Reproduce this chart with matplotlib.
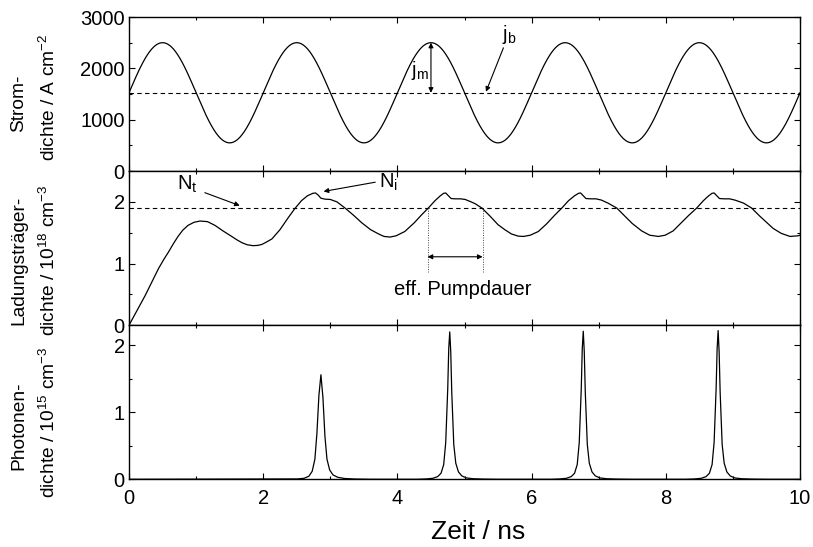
import numpy as np
import matplotlib
matplotlib.use("Agg")
import matplotlib.pyplot as plt
from matplotlib.ticker import MultipleLocator

plt.rcParams['font.family'] = ['Liberation Sans', 'DejaVu Sans']
plt.rcParams['mathtext.fontset'] = 'custom'
plt.rcParams['mathtext.rm'] = 'Liberation Sans'
plt.rcParams['mathtext.it'] = 'Liberation Sans'

# --- current modulation (A/cm^2) ---
j_b = 1525.0          # bias current density
j_m = 975.0           # modulation amplitude
mod_period = 2.0      # ns

# --- carrier density (1e18 cm^-3) ---
carrier_t = [0.00, 0.12, 0.24, 0.34, 0.44, 0.52, 0.59, 0.66, 0.73, 0.80, 0.88, 0.97,
             1.06, 1.17, 1.28, 1.40, 1.53, 1.60, 1.68, 1.76, 1.85, 1.92, 1.98, 2.05,
             2.13, 2.25, 2.37, 2.47, 2.57, 2.66, 2.74,
             2.78, 2.82, 2.86, 2.92, 3.00, 3.10, 3.22, 3.35, 3.47, 3.60, 3.72, 3.80,
             3.89, 3.98, 4.11, 4.25, 4.36, 4.46, 4.56, 4.64, 4.69, 4.72, 4.76, 4.80,
             4.86, 4.94, 5.01, 5.10, 5.16, 5.26, 5.38, 5.50, 5.60, 5.70, 5.80, 5.88,
             5.98, 6.10, 6.22, 6.34, 6.45, 6.55, 6.64, 6.70, 6.73, 6.77, 6.81, 6.88,
             6.96, 7.04, 7.14, 7.27, 7.38, 7.50, 7.64, 7.76, 7.89, 7.99, 8.11, 8.22,
             8.34, 8.46, 8.56, 8.64, 8.69, 8.72, 8.76, 8.80, 8.87, 8.95, 9.03, 9.16,
             9.28, 9.40, 9.50, 9.60, 9.72, 9.85, 9.97, 10.00]
carrier_n = [0.00, 0.24, 0.48, 0.70, 0.92, 1.07, 1.19, 1.32, 1.44, 1.54, 1.62, 1.67,
             1.69, 1.68, 1.62, 1.53, 1.44, 1.39, 1.34, 1.305, 1.29, 1.295, 1.31, 1.35,
             1.40, 1.55, 1.74, 1.89, 2.02, 2.10, 2.14,
             2.145, 2.11, 2.06, 2.045, 2.04, 2.00, 1.90, 1.78, 1.66, 1.55, 1.48, 1.44,
             1.43, 1.45, 1.52, 1.66, 1.79, 1.90, 2.02, 2.10, 2.14, 2.145, 2.10, 2.055,
             2.05, 2.05, 2.04, 2.00, 1.97, 1.90, 1.77, 1.63, 1.55, 1.48, 1.445, 1.44,
             1.46, 1.52, 1.64, 1.78, 1.90, 2.02, 2.10, 2.14, 2.145, 2.10, 2.055, 2.05,
             2.05, 2.03, 1.98, 1.90, 1.78, 1.65, 1.53, 1.46, 1.44, 1.46, 1.53, 1.65,
             1.78, 1.90, 2.02, 2.10, 2.14, 2.145, 2.10, 2.055, 2.05, 2.05, 2.03, 1.98,
             1.90, 1.77, 1.67, 1.57, 1.49, 1.44, 1.45, 1.46]
N_t = 1.90

# --- photon density (1e15 cm^-3) ---
photon_t = [0.00, 2.51, 2.61, 2.68, 2.73, 2.77, 2.80, 2.83, 2.86, 2.89, 2.92, 2.95,
            2.99, 3.04, 3.11, 3.21, 3.36, 3.60,
            4.30, 4.43, 4.53, 4.60, 4.65, 4.69, 4.72, 4.75, 4.765, 4.78, 4.795, 4.81,
            4.84, 4.87, 4.91, 4.96, 5.03, 5.13, 5.28, 5.50,
            6.30, 6.42, 6.52, 6.59, 6.64, 6.68, 6.71, 6.74, 6.755, 6.77, 6.785, 6.80,
            6.83, 6.86, 6.90, 6.95, 7.02, 7.12, 7.27, 7.50,
            8.30, 8.43, 8.53, 8.60, 8.65, 8.69, 8.72, 8.75, 8.765, 8.78, 8.795, 8.81,
            8.84, 8.87, 8.91, 8.96, 9.03, 9.13, 9.28, 9.50, 10.00]
photon_s = [0.000, 0.005, 0.015, 0.045, 0.12, 0.30, 0.68, 1.25, 1.56, 1.22, 0.64, 0.30,
            0.14, 0.065, 0.030, 0.012, 0.004, 0.000,
            0.000, 0.005, 0.015, 0.04, 0.09, 0.22, 0.55, 1.35, 1.95, 2.20, 1.90, 1.30,
            0.52, 0.24, 0.11, 0.05, 0.02, 0.008, 0.003, 0.000,
            0.000, 0.005, 0.015, 0.04, 0.09, 0.22, 0.55, 1.35, 1.95, 2.21, 1.90, 1.30,
            0.52, 0.24, 0.11, 0.05, 0.02, 0.008, 0.003, 0.000,
            0.000, 0.005, 0.015, 0.04, 0.09, 0.22, 0.55, 1.35, 1.95, 2.22, 1.90, 1.30,
            0.52, 0.24, 0.11, 0.05, 0.02, 0.008, 0.003, 0.000, 0.000]

# two-line axis titles (first line, second line)
ylabels = [('Strom-', 'dichte / A cm$^{-2}$'),
           ('Ladungsträger-', 'dichte / 10$^{18}$ cm$^{-3}$'),
           ('Photonen-', 'dichte / 10$^{15}$ cm$^{-3}$')]
xlabel = 'Zeit / ns'

FS = 14.5
FS_LABEL = 13.8
LW = 0.9

fig = plt.figure(figsize=(8.13, 5.47), dpi=100)
left, width, h = 0.1587, 0.8253, 0.2817
ax1 = fig.add_axes([left, 0.6872, width, h])
ax2 = fig.add_axes([left, 0.4055, width, h], sharex=ax1)
ax3 = fig.add_axes([left, 0.1238, width, h], sharex=ax1)

for ax in (ax1, ax2, ax3):
    ax.tick_params(which='both', direction='in', top=True, right=True,
                   labelsize=FS, width=0.8)
    ax.tick_params(which='major', length=4)
    ax.tick_params(which='minor', length=2.5)
    ax.tick_params(axis='x', pad=7)
    ax.tick_params(axis='y', pad=3)
    ax.xaxis.set_major_locator(MultipleLocator(2))
    ax.xaxis.set_minor_locator(MultipleLocator(1))
    for s in ax.spines.values():
        s.set_linewidth(1.0)
ax1.tick_params(axis='x', labelbottom=False)
ax2.tick_params(axis='x', labelbottom=False)
ax1.set_xlim(0, 10)

dash = (0, (4, 3))
arrow_kw = dict(color='black', lw=0.8, mutation_scale=7, shrinkA=0, shrinkB=0)

# current density
t_j = np.linspace(0, 10, 2001)
j = j_b + j_m * np.sin(2 * np.pi * t_j / mod_period)
ax1.plot(t_j, j, color='black', lw=LW)
ax1.axhline(j_b, color='black', lw=0.8, ls=dash)
ax1.set_ylim(0, 3000)
ax1.yaxis.set_major_locator(MultipleLocator(1000))
ax1.yaxis.set_minor_locator(MultipleLocator(500))
ax1.annotate('', xy=(4.5, j_b + j_m), xytext=(4.5, j_b),
             arrowprops=dict(arrowstyle='<|-|>', **arrow_kw))
ax1.text(4.20, 1950, r'j$_\mathregular{m}$', fontsize=FS, ha='left', va='center')
ax1.annotate('', xy=(5.32, j_b + 20), xytext=(5.58, 2400),
             arrowprops=dict(arrowstyle='-|>', **arrow_kw))
ax1.text(5.56, 2650, r'j$_\mathregular{b}$', fontsize=FS, ha='left', va='center')

# carrier density
ax2.plot(carrier_t, carrier_n, color='black', lw=LW)
ax2.axhline(N_t, color='black', lw=0.8, ls=dash)
ax2.set_ylim(0, 2.5)
ax2.yaxis.set_major_locator(MultipleLocator(1))
ax2.yaxis.set_minor_locator(MultipleLocator(0.5))
ax2.annotate('', xy=(1.65, 1.94), xytext=(1.13, 2.15),
             arrowprops=dict(arrowstyle='-|>', **arrow_kw))
ax2.text(0.72, 2.28, r'N$_\mathregular{t}$', fontsize=FS, ha='left', va='center')
ax2.annotate('', xy=(2.90, 2.17), xytext=(3.67, 2.32),
             arrowprops=dict(arrowstyle='-|>', **arrow_kw))
ax2.text(3.72, 2.32, r'N$_\mathregular{i}$', fontsize=FS, ha='left', va='center')
pump_start, pump_end = 4.45, 5.27
for xv in (pump_start, pump_end):
    ax2.plot([xv, xv], [0.86, N_t], color='#444444', lw=0.7, ls=(0, (1, 1.5)))
ax2.annotate('', xy=(pump_end, 1.11), xytext=(pump_start, 1.11),
             arrowprops=dict(arrowstyle='<|-|>', **arrow_kw))
ax2.text(4.98, 0.58, 'eff. Pumpdauer', fontsize=FS, ha='center', va='center')

# photon density
ax3.plot(photon_t, photon_s, color='black', lw=LW)
ax3.set_ylim(0, 2.3)
ax3.yaxis.set_major_locator(MultipleLocator(1))
ax3.yaxis.set_minor_locator(MultipleLocator(0.5))

W, H = 813.0, 547.0
lab_kw = dict(rotation=90, ha='center', va='center', fontsize=FS_LABEL)
label_centers = [(103, 97), (260, 260), (426, 422)]
for (line1, line2), (c1, c2) in zip(ylabels, label_centers):
    fig.text(19 / W, 1 - c1 / H, line1, **lab_kw)
    fig.text(49 / W, 1 - c2 / H, line2, **lab_kw)
fig.text(478 / W, 1 - 532 / H, xlabel, ha='center', va='center', fontsize=19)

fig.savefig('out.png', dpi=100)
